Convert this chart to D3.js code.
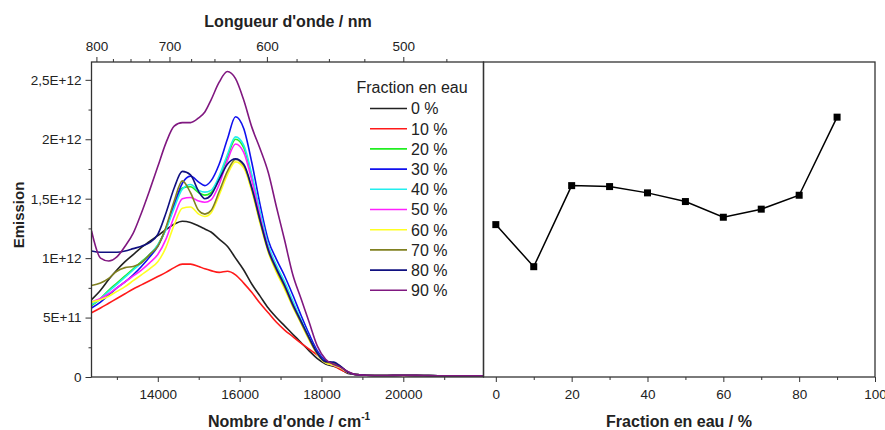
<!DOCTYPE html>
<html>
<head>
<meta charset="utf-8">
<script src="https://cdn.jsdelivr.net/npm/d3@7"></script>
<style>
  body { margin: 0; background: #fff; }
  svg text { font-family: "Liberation Sans", Arial, sans-serif; fill: #222; }
  .tick line { stroke: #333; }
</style>
</head>
<body>
<div id="chart"></div>
<script>
// wavenumber grid (cm-1) shared by all spectra
const wavenumbers = [12380, 12600, 12800, 13000, 13200, 13400, 13600, 13800, 14000, 14200, 14400, 14600, 14800, 15000, 15150, 15300, 15500, 15700, 15900, 16100, 16300, 16500, 16700, 16900, 17100, 17300, 17500, 17700, 17900, 18100, 18300, 18450, 18650, 18850, 19100, 19500, 20000, 20500, 21000, 21500, 21960];

// emission in units of 1E+11
const unit = 1e11;
const em0 = [6.5, 7.3, 8.2, 9.0, 9.7, 10.3, 10.9, 11.4, 11.9, 12.4, 12.85, 13.1, 13.0, 12.7, 12.45, 12.2, 11.6, 11.0, 10.0, 9.0, 7.8, 6.8, 5.8, 5.0, 4.3, 3.6, 2.9, 2.2, 1.55, 1.1, 0.9, 0.7, 0.3, 0.2, 0.15, 0.12, 0.15, 0.12, 0.1, 0.1, 0.1];
const em10 = [5.4, 5.8, 6.2, 6.6, 7.0, 7.4, 7.75, 8.1, 8.45, 8.8, 9.2, 9.5, 9.5, 9.3, 9.1, 8.95, 8.8, 8.9, 8.6, 7.9, 7.1, 6.2, 5.4, 4.6, 3.95, 3.4, 2.85, 2.35, 1.85, 1.35, 0.95, 0.65, 0.35, 0.2, 0.15, 0.12, 0.12, 0.1, 0.1, 0.1, 0.1];
const em20 = [6.0, 6.6, 7.3, 7.9, 8.5, 9.1, 9.7, 10.3, 11.1, 12.5, 14.4, 15.9, 16.0, 15.5, 15.3, 15.5, 16.7, 18.5, 20.0, 19.3, 16.8, 13.7, 10.9, 9.2, 7.8, 6.2, 4.7, 3.2, 1.95, 1.2, 1.0, 0.8, 0.4, 0.2, 0.15, 0.12, 0.15, 0.12, 0.1, 0.1, 0.1];
const em30 = [5.8, 6.3, 6.9, 7.5, 8.0, 8.6, 9.3, 10.1, 11.0, 12.5, 14.5, 16.3, 16.9, 16.4, 16.1, 16.5, 17.9, 20.0, 21.9, 20.9, 18.0, 14.5, 11.5, 9.9, 8.5, 6.9, 5.2, 3.6, 2.2, 1.35, 1.05, 0.85, 0.4, 0.2, 0.15, 0.12, 0.15, 0.12, 0.1, 0.1, 0.1];
const em40 = [6.1, 6.6, 7.2, 7.8, 8.4, 9.0, 9.6, 10.3, 11.1, 12.4, 14.2, 15.8, 16.2, 15.7, 15.55, 15.7, 16.9, 18.7, 20.2, 19.5, 17.0, 13.9, 11.1, 9.4, 8.0, 6.4, 4.8, 3.3, 2.0, 1.25, 1.0, 0.8, 0.4, 0.2, 0.15, 0.12, 0.15, 0.12, 0.1, 0.1, 0.1];
const em50 = [6.3, 6.6, 7.0, 7.5, 8.0, 8.5, 9.0, 9.6, 10.3, 11.6, 13.5, 15.0, 15.1, 14.8, 14.7, 14.9, 16.2, 18.2, 19.6, 18.9, 16.5, 13.5, 10.8, 9.1, 7.7, 6.1, 4.6, 3.2, 1.95, 1.2, 1.0, 0.8, 0.4, 0.2, 0.15, 0.12, 0.15, 0.12, 0.1, 0.1, 0.1];
const em60 = [6.3, 6.5, 6.8, 7.2, 7.6, 8.1, 8.6, 9.1, 9.7, 10.9, 12.8, 14.2, 14.3, 13.7, 13.5, 13.8, 15.3, 17.0, 18.1, 17.6, 15.6, 12.9, 10.5, 8.8, 7.4, 5.9, 4.5, 3.1, 1.9, 1.2, 1.0, 0.8, 0.4, 0.2, 0.15, 0.12, 0.15, 0.12, 0.1, 0.1, 0.1];
const em70 = [7.7, 7.9, 8.3, 8.9, 9.2, 9.3, 9.6, 10.3, 11.0, 12.6, 14.8, 16.5, 15.5, 14.0, 13.7, 14.0, 15.6, 17.3, 18.3, 17.8, 15.8, 13.1, 10.6, 9.0, 7.6, 6.0, 4.6, 3.2, 1.95, 1.25, 1.15, 0.9, 0.4, 0.2, 0.15, 0.12, 0.15, 0.12, 0.1, 0.1, 0.1];
const em80 = [10.6, 10.5, 10.5, 10.5, 10.6, 10.8, 11.0, 11.3, 12.0, 13.8, 15.9, 17.3, 17.0, 15.6, 15.0, 15.3, 16.6, 17.9, 18.35, 17.9, 15.9, 13.2, 10.7, 9.1, 7.7, 6.1, 4.7, 3.3, 2.0, 1.3, 1.25, 0.95, 0.4, 0.2, 0.15, 0.12, 0.15, 0.12, 0.1, 0.1, 0.1];
const em90 = [12.3, 10.0, 9.76, 10.1, 11.0, 12.1, 13.8, 15.7, 17.7, 19.7, 21.1, 21.4, 21.4, 21.8, 22.3, 23.3, 24.8, 25.7, 25.1, 23.3, 21.0, 19.2, 17.2, 14.3, 11.5, 8.6, 6.6, 4.6, 2.6, 1.5, 1.05, 0.85, 0.45, 0.2, 0.15, 0.12, 0.15, 0.12, 0.1, 0.1, 0.1];

const seriesNames = ["0 %", "10 %", "20 %", "30 %", "40 %", "50 %", "60 %", "70 %", "80 %", "90 %"];
const seriesColors = ["#222222", "#ff1a1a", "#22ee22", "#1010ee", "#22eeee", "#ff22ff", "#ffff22", "#808020", "#101080", "#801880"];
const seriesValues = [em0, em10, em20, em30, em40, em50, em60, em70, em80, em90];

// right panel: emission vs water fraction
const fractions = [0, 10, 20, 30, 40, 50, 60, 70, 80, 90];
const peakEmission = [1.282e12, 0.928e12, 1.610e12, 1.602e12, 1.549e12, 1.476e12, 1.344e12, 1.412e12, 1.529e12, 2.186e12];

// ticks
const yMajor = [0, 5e11, 1e12, 1.5e12, 2e12, 2.5e12];
const yMinor = [2.5e11, 7.5e11, 1.25e12, 1.75e12, 2.25e12];
const wnMajor = [14000, 16000, 18000, 20000];
const wnMinor = [13000, 15000, 17000, 19000, 21000];
const nmMajor = [800, 700, 600, 500];
const nmMinor = [775, 750, 725, 675, 650, 625, 575, 550, 525, 475];
const frMajor = [0, 20, 40, 60, 80, 100];
const frMinor = [10, 30, 50, 70, 90];

const W = 885, H = 430;
const plotTop = 62, plotBottom = 377;
const leftX0 = 91.5, leftX1 = 483.5, rightX1 = 875;

const svg = d3.select("#chart").append("svg")
  .attr("width", W).attr("height", H);

let x = d3.scaleLinear().domain([12380, 21960]).range([leftX0, leftX1]);
let y = d3.scaleLinear().domain([0, 2.65e12]).range([plotBottom, plotTop]);
let xf = d3.scaleLinear().domain([-3.25, 100]).range([leftX1, rightX1]);

function sciLabel(v) {
  if (v === 0) return "0";
  let e = Math.floor(Math.log10(v) + 1e-9);
  let m = +(v / Math.pow(10, e)).toFixed(2);
  return String(m).replace(".", ",") + "E+" + e;
}

function drawAxis(axis, tx, ty) {
  let g = svg.append("g").attr("transform", "translate(" + tx + "," + ty + ")").call(axis);
  g.select(".domain").remove();
  g.selectAll("text").style("font-size", "13.5px");
  return g;
}

// left axis
drawAxis(d3.axisLeft(y).tickValues(yMajor).tickSize(6).tickPadding(4).tickFormat(sciLabel), leftX0, 0);
drawAxis(d3.axisLeft(y).tickValues(yMinor).tickSize(3).tickFormat(""), leftX0, 0);

// bottom axis (wavenumber)
drawAxis(d3.axisBottom(x).tickValues(wnMajor).tickSize(5).tickPadding(7).tickFormat(d3.format("d")), 0, plotBottom);
drawAxis(d3.axisBottom(x).tickValues(wnMinor).tickSize(3).tickFormat(""), 0, plotBottom);

// top axis (wavelength), positioned through wavenumber = 1e7 / nm
drawAxis(d3.axisTop(x).tickValues(nmMajor.map(d => 1e7 / d)).tickSize(5).tickPadding(6)
  .tickFormat(d => Math.round(1e7 / d)), 0, plotTop);
drawAxis(d3.axisTop(x).tickValues(nmMinor.map(d => 1e7 / d)).tickSize(3).tickFormat(""), 0, plotTop);

// right panel bottom axis
drawAxis(d3.axisBottom(xf).tickValues(frMajor).tickSize(5).tickPadding(7), 0, plotBottom);
drawAxis(d3.axisBottom(xf).tickValues(frMinor).tickSize(3).tickFormat(""), 0, plotBottom);

// spectra
svg.append("clipPath").attr("id", "clipL").append("rect")
  .attr("x", leftX0).attr("y", plotTop).attr("width", leftX1 - leftX0).attr("height", plotBottom - plotTop);

let line = d3.line()
  .x((d, i) => x(wavenumbers[i]))
  .y(d => y(d * unit))
  .curve(d3.curveMonotoneX);

svg.append("g").attr("clip-path", "url(#clipL)")
  .selectAll("path")
  .data(seriesValues)
  .enter()
  .append("path")
  .attr("d", line)
  .attr("fill", "none")
  .attr("stroke", (d, i) => seriesColors[i])
  .attr("stroke-width", 1.6);

// legend
let legend = svg.append("g");
legend.append("text").attr("x", 412).attr("y", 93)
  .attr("text-anchor", "middle").style("font-size", "16px").text("Fraction en eau");
seriesNames.forEach(function(name, i) {
  let ly = 108.5 + i * 20.2;
  legend.append("line").attr("x1", 370).attr("x2", 407).attr("y1", ly).attr("y2", ly)
    .attr("stroke", seriesColors[i]).attr("stroke-width", 1.6);
  legend.append("text").attr("x", 411).attr("y", ly + 5.8)
    .style("font-size", "16px").text(name);
});

// right panel line + squares
let line2 = d3.line().x((d, i) => xf(fractions[i])).y(d => y(d));
svg.append("path").datum(peakEmission).attr("d", line2)
  .attr("fill", "none").attr("stroke", "#000").attr("stroke-width", 1.5);
svg.selectAll("rect.pt").data(peakEmission).enter().append("rect")
  .attr("class", "pt")
  .attr("x", (d, i) => xf(fractions[i]) - 3.5)
  .attr("y", d => y(d) - 3.5)
  .attr("width", 7).attr("height", 7).attr("fill", "#000");

// frames
svg.append("rect").attr("x", leftX0).attr("y", plotTop).attr("width", leftX1 - leftX0).attr("height", plotBottom - plotTop)
  .attr("fill", "none").attr("stroke", "#333").attr("stroke-width", 1.3);
svg.append("rect").attr("x", leftX1).attr("y", plotTop).attr("width", rightX1 - leftX1).attr("height", plotBottom - plotTop)
  .attr("fill", "none").attr("stroke", "#333").attr("stroke-width", 1.3);

// titles
svg.append("text").attr("x", 288).attr("y", 27).attr("text-anchor", "middle")
  .style("font-size", "16px").style("font-weight", "bold").text("Longueur d'onde / nm");
let xt = svg.append("text").attr("x", 289).attr("y", 426.5).attr("text-anchor", "middle")
  .style("font-size", "16px").style("font-weight", "bold").text("Nombre d'onde / cm");
xt.append("tspan").attr("dy", -7).style("font-size", "10px").text("-1");
svg.append("text").attr("x", 679).attr("y", 427).attr("text-anchor", "middle")
  .style("font-size", "16px").style("font-weight", "bold").text("Fraction en eau / %");
svg.append("text").attr("transform", "translate(24,215) rotate(-90)").attr("text-anchor", "middle")
  .style("font-size", "15px").style("font-weight", "bold").text("Emission");
</script>
</body>
</html>
